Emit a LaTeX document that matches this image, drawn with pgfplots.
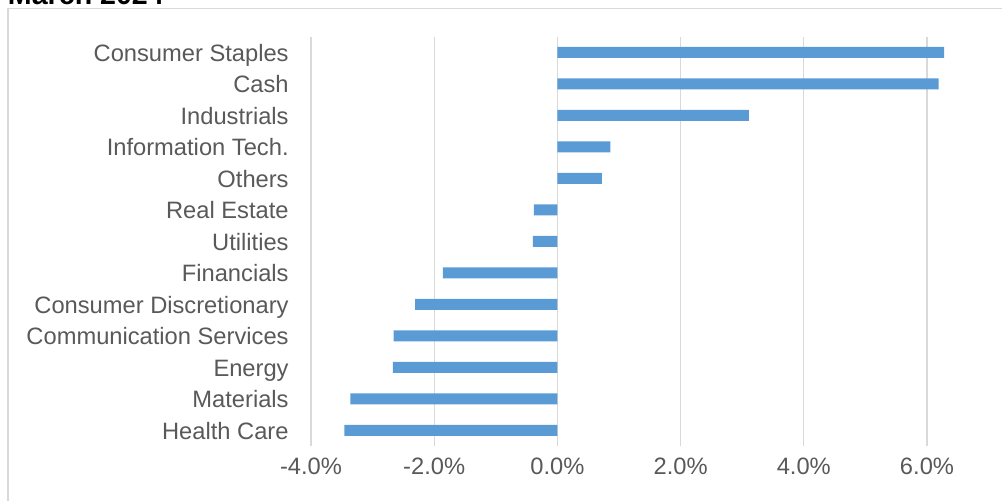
\documentclass[border=0pt]{standalone}
\usepackage{pgfplots}
\pgfplotsset{compat=1.18}
\usepackage{fontspec}
\setmainfont{Liberation Sans}
\definecolor{barblue}{HTML}{5B9BD5}
\definecolor{gridgray}{HTML}{D9D9D9}
\definecolor{labelgray}{HTML}{595959}
\begin{document}
\begin{tikzpicture}
\path[use as bounding box] (0,0) rectangle (501pt,250pt);
\node[anchor=base west, inner sep=0pt, font=\bfseries\fontsize{14.3pt}{17pt}\selectfont] at (3.8pt,248pt) {March 2024};
\draw[gridgray, line width=0.8pt] (4pt,245.75pt) rectangle (560pt,-30pt);
\begin{axis}[
  at={(155.5pt,27pt)}, anchor=south west,
  scale only axis, width=369.6pt, height=204.75pt,
  xmin=-4, xmax=8, ymin=-0.5, ymax=12.5,
  axis line style={draw=none},
  major tick length=0pt,
  xmajorgrids, grid style={gridgray, line width=0.6pt},
  xtick={-4,-2,0,2,4,6},
  xticklabels={-4.0\%,-2.0\%,0.0\%,2.0\%,4.0\%,6.0\%},
  ytick={0,1,2,3,4,5,6,7,8,9,10,11,12},
  yticklabels={Health Care,Materials,Energy,Communication Services,Consumer Discretionary,Financials,Utilities,Real Estate,Others,Information Tech.,Industrials,Cash,Consumer Staples},
  tick label style={font=\fontsize{11.85pt}{14pt}\selectfont, text=labelgray},
  xticklabel style={anchor=center, inner sep=0pt, yshift=-10.5pt, text height=0.72em, text depth=0.0em},
  yticklabel style={anchor=east, inner sep=0pt, xshift=-11pt, yshift=-1pt, text height=0.72em, text depth=0.0em},
]
\addplot[xbar, fill=barblue, draw=none, bar width=5.5pt] coordinates {
  (-3.46,0) (-3.36,1) (-2.67,2) (-2.66,3) (-2.31,4) (-1.86,5) (-0.40,6) (-0.38,7)
  (0.72,8) (0.86,9) (3.11,10) (6.19,11) (6.28,12)
};
\end{axis}
\end{tikzpicture}
\end{document}
